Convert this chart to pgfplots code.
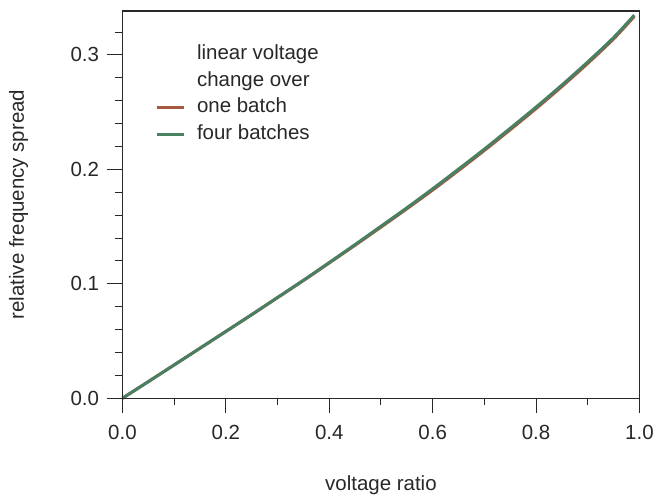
\documentclass[border=0pt]{standalone}
\usepackage{pgfplots}
\pgfplotsset{compat=1.18}
\usepackage{fontspec}
\setmainfont{Liberation Sans}
\definecolor{cbrown}{RGB}{166,88,64}
\definecolor{cgreen}{RGB}{74,128,98}
\definecolor{axgray}{RGB}{40,40,40}
\begin{document}
\begin{tikzpicture}
\begin{axis}[
  scale only axis, width=518pt, height=388pt,
  xmin=0, xmax=1, ymin=0, ymax=0.3384,
  clip=false,
  axis line style={line width=1pt, color=axgray},
  xtick={0,0.2,0.4,0.6,0.8,1.0},
  minor xtick={0.1,0.3,0.5,0.7,0.9},
  ytick={0,0.1,0.2,0.3},
  minor ytick={0.02,0.04,0.06,0.08,0.12,0.14,0.16,0.18,0.22,0.24,0.26,0.28,0.32},
  tick align=outside, tick pos=left,
  major tick length=15pt, minor tick length=7pt,
  every tick/.style={axgray, line width=1pt},
  /pgf/number format/assume math mode=true,
  /pgf/number format/fixed,
  /pgf/number format/fixed zerofill,
  /pgf/number format/precision=1,
  tick label style={font=\fontsize{20.5}{24}\selectfont, text=axgray},
  x tick label style={yshift=-9pt},
  y tick label style={xshift=-5pt},
  xlabel={voltage ratio},
  ylabel={relative frequency spread},
  every axis x label/.style={at={(axis description cs:0.5,-0.224)}, anchor=center, font=\fontsize{20.5}{24}\selectfont, text=axgray},
  every axis y label/.style={at={(axis description cs:-0.2008,0.5)}, anchor=center, rotate=90, font=\fontsize{20.5}{24}\selectfont, text=axgray},
  legend style={draw=none, fill=none, at={(axis description cs:0.057,0.918)}, anchor=north west,
    font=\fontsize{20.5}{24}\selectfont, text=axgray,
    nodes={inner sep=0pt, text height=15pt, text depth=4.5pt},
    row sep=7pt, column sep=12pt},
  legend cell align=left,
  legend image code/.code={\draw[line width=3pt] (0pt,0pt) -- (27pt,0pt);},
]
\addlegendimage{empty legend}
\addlegendentry{linear voltage}
\addlegendimage{empty legend}
\addlegendentry{change over}
\addplot[cbrown, line width=3pt, smooth] coordinates {
(0,0) (0.05,0.0145) (0.1,0.0291) (0.15,0.0437) (0.2,0.0583) (0.25,0.0730)
(0.3,0.0879) (0.35,0.1028) (0.4,0.1182) (0.45,0.1337) (0.5,0.1495)
(0.55,0.1655) (0.6,0.1819) (0.65,0.1990) (0.7,0.2165) (0.75,0.2346)
(0.8,0.2531) (0.85,0.2724) (0.9,0.2926) (0.95,0.3140) (0.99,0.3336)
};
\addlegendentry{one batch}
\addplot[cgreen, line width=3pt, smooth] coordinates {
(0,0) (0.05,0.0145) (0.1,0.0291) (0.15,0.0437) (0.2,0.0584) (0.25,0.0731)
(0.3,0.0881) (0.35,0.1031) (0.4,0.1186) (0.45,0.1343) (0.5,0.1503)
(0.55,0.1664) (0.6,0.1830) (0.65,0.2002) (0.7,0.2177) (0.75,0.2359)
(0.8,0.2544) (0.85,0.2737) (0.9,0.2939) (0.95,0.3152) (0.99,0.3348)
};
\addlegendentry{four batches}
\draw[axgray, line width=1.2pt] (rel axis cs:0,0) rectangle (rel axis cs:1,1);
\end{axis}
\path (-122.7pt,-96pt) rectangle (534pt,399pt);
\end{tikzpicture}
\end{document}
